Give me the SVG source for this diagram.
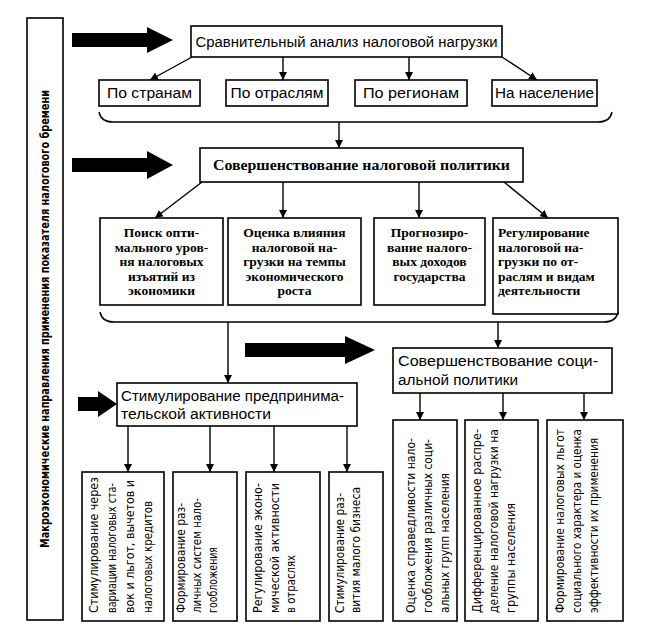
<svg xmlns="http://www.w3.org/2000/svg" width="648" height="636" viewBox="0 0 648 636">
<defs>
<marker id="ah" viewBox="0 0 10 10" refX="10" refY="5" markerWidth="8" markerHeight="8" markerUnits="userSpaceOnUse" orient="auto">
<path d="M0,0 L10,5 L0,10 z" fill="#000"/>
</marker>
<style>
.box{fill:#fff;stroke:#000;stroke-width:1.6}
.ln{stroke:#000;stroke-width:1.4;fill:none}
.arr{stroke:#000;stroke-width:1.4;fill:none;marker-end:url(#ah)}
.big{fill:#000}
.t{font-family:"Liberation Sans",Arial,sans-serif;font-size:14px;fill:#000}
.tb{font-family:"Liberation Serif","Times New Roman",serif;font-weight:bold;font-size:15px;fill:#000}
.tr{font-family:"Liberation Serif","Times New Roman",serif;font-weight:bold;font-size:13.5px;fill:#000}
.v{font-family:"Liberation Sans Narrow","DejaVu Sans Condensed","Liberation Sans",sans-serif;font-size:12.5px;fill:#000}
.vm{font-family:"Liberation Sans Narrow","DejaVu Sans Condensed","Liberation Sans",sans-serif;font-size:12px;font-weight:bold;fill:#000}
.c{text-anchor:middle}
</style>
</defs>
<rect width="648" height="636" fill="#fff"/>

<g id="side">
<rect class="box" x="27" y="18" width="36" height="602"/>
<text class="vm c" transform="translate(49,319) rotate(-90)" textLength="458" lengthAdjust="spacingAndGlyphs">Макроэкономические направления применения показателя налогового бремени</text>
</g>

<g id="big-arrows">
<polygon class="big" points="72,33 147,33 147,27 173,40 147,53 147,47 72,47"/>
<polygon class="big" points="72,158 147,158 147,151 173,165 147,179 147,172 72,172"/>
<polygon class="big" points="245,343 345,343 345,336 375,350 345,364 345,357 245,357"/>
<polygon class="big" points="78,397 98,397 98,391 117,404 98,417 98,411 78,411"/>
</g>

<g id="connectors">
<line class="arr" x1="192" y1="57" x2="150" y2="80"/>
<line class="arr" x1="283" y1="57" x2="283" y2="80"/>
<line class="arr" x1="409" y1="57" x2="409" y2="80"/>
<line class="arr" x1="502" y1="57" x2="537" y2="80"/>
<path class="ln" d="M99,112 Q101,122 113,122 L598,122 Q610,122 612,112"/>
<line class="arr" x1="339" y1="122" x2="339" y2="148"/>
<line class="arr" x1="202" y1="182" x2="155" y2="218"/>
<line class="arr" x1="283" y1="182" x2="283" y2="218"/>
<line class="arr" x1="419" y1="182" x2="419" y2="218"/>
<line class="arr" x1="504" y1="182" x2="548" y2="218"/>
<path class="ln" d="M100,312 Q102,322 114,322 L604,322 Q616,322 618,312"/>
<line class="arr" x1="228" y1="322" x2="228" y2="383"/>
<line class="arr" x1="498" y1="322" x2="498" y2="348"/>
<line class="arr" x1="128" y1="426" x2="128" y2="472"/>
<line class="arr" x1="210" y1="426" x2="210" y2="472"/>
<line class="arr" x1="274" y1="426" x2="274" y2="472"/>
<line class="arr" x1="347" y1="426" x2="347" y2="472"/>
<line class="arr" x1="420" y1="393" x2="420" y2="420"/>
<line class="arr" x1="503" y1="393" x2="503" y2="420"/>
<line class="arr" x1="584" y1="393" x2="584" y2="420"/>
</g>

<g id="n-compare">
<rect class="box" x="191" y="26" width="311" height="31"/>
<text class="t c" x="346.5" y="47" textLength="302" lengthAdjust="spacingAndGlyphs">Сравнительный анализ налоговой нагрузки</text>
</g>
<g id="n-countries"><rect class="box" x="99" y="80" width="101" height="26"/><text class="t c" x="149.5" y="98" textLength="85" lengthAdjust="spacingAndGlyphs">По странам</text></g>
<g id="n-branches"><rect class="box" x="226" y="80" width="102" height="26"/><text class="t c" x="277" y="98" textLength="93" lengthAdjust="spacingAndGlyphs">По отраслям</text></g>
<g id="n-regions"><rect class="box" x="355" y="80" width="112" height="26"/><text class="t c" x="411" y="98" textLength="96" lengthAdjust="spacingAndGlyphs">По регионам</text></g>
<g id="n-population"><rect class="box" x="492" y="80" width="105" height="26"/><text class="t c" x="544.5" y="98" textLength="99" lengthAdjust="spacingAndGlyphs">На население</text></g>

<g id="n-taxpolicy">
<rect class="box" x="200" y="148" width="323" height="34"/>
<text class="tb c" x="361.5" y="170" textLength="297" lengthAdjust="spacingAndGlyphs">Совершенствование налоговой политики</text>
</g>

<g id="n-optimal">
<rect class="box" x="100" y="218" width="123" height="87"/>
<text class="tr c"><tspan x="161.5" y="237">Поиск опти-</tspan><tspan x="161.5" y="251.5">мального уров-</tspan><tspan x="161.5" y="266">ня налоговых</tspan><tspan x="161.5" y="280.5">изъятий из</tspan><tspan x="161.5" y="295">экономики</tspan></text>
</g>
<g id="n-influence">
<rect class="box" x="228" y="218" width="133" height="87"/>
<text class="tr c"><tspan x="294.5" y="237">Оценка влияния</tspan><tspan x="294.5" y="251.5">налоговой на-</tspan><tspan x="294.5" y="266">грузки на темпы</tspan><tspan x="294.5" y="280.5">экономического</tspan><tspan x="294.5" y="295">роста</tspan></text>
</g>
<g id="n-forecast">
<rect class="box" x="374" y="218" width="111" height="87"/>
<text class="tr c"><tspan x="429.5" y="237">Прогнозиро-</tspan><tspan x="429.5" y="251.5">вание налого-</tspan><tspan x="429.5" y="266">вых доходов</tspan><tspan x="429.5" y="280.5">государства</tspan></text>
</g>
<g id="n-regulation">
<rect class="box" x="493" y="218" width="125" height="96"/>
<text class="tr"><tspan x="498" y="237">Регулирование</tspan><tspan x="498" y="251.5">налоговой на-</tspan><tspan x="498" y="266">грузки по от-</tspan><tspan x="498" y="280.5">раслям и видам</tspan><tspan x="498" y="295">деятельности</tspan></text>
</g>

<g id="n-social">
<rect class="box" x="393" y="348" width="219" height="45"/>
<text class="t"><tspan x="398" y="366" textLength="200" lengthAdjust="spacingAndGlyphs">Совершенствование соци-</tspan><tspan x="398" y="385" textLength="120" lengthAdjust="spacingAndGlyphs">альной политики</tspan></text>
</g>
<g id="n-entrepreneur">
<rect class="box" x="117" y="383" width="240" height="43"/>
<text class="t"><tspan x="121" y="401" textLength="223" lengthAdjust="spacingAndGlyphs">Стимулирование предпринима-</tspan><tspan x="121" y="419" textLength="150" lengthAdjust="spacingAndGlyphs">тельской активности</tspan></text>
</g>

<g id="n-b1">
<rect class="box" x="82" y="472" width="82" height="149"/>
<text class="v" transform="translate(98,613) rotate(-90)" textLength="136" lengthAdjust="spacingAndGlyphs">Стимулирование через</text>
<text class="v" transform="translate(116,613) rotate(-90)" textLength="130" lengthAdjust="spacingAndGlyphs">вариации налоговых ста-</text>
<text class="v" transform="translate(134,613) rotate(-90)" textLength="133" lengthAdjust="spacingAndGlyphs">вок и льгот, вычетов и</text>
<text class="v" transform="translate(152,613) rotate(-90)" textLength="112" lengthAdjust="spacingAndGlyphs">налоговых кредитов</text>
</g>
<g id="n-b2">
<rect class="box" x="173" y="472" width="64" height="149"/>
<text class="v" transform="translate(185,613) rotate(-90)" textLength="110" lengthAdjust="spacingAndGlyphs">Формирование раз-</text>
<text class="v" transform="translate(201,613) rotate(-90)" textLength="115" lengthAdjust="spacingAndGlyphs">личных систем нало-</text>
<text class="v" transform="translate(217,613) rotate(-90)" textLength="66" lengthAdjust="spacingAndGlyphs">гообложения</text>
</g>
<g id="n-b3">
<rect class="box" x="246" y="472" width="74" height="149"/>
<text class="v" transform="translate(262,613) rotate(-90)" textLength="130" lengthAdjust="spacing">Регулирование эконо-</text>
<text class="v" transform="translate(279,613) rotate(-90)" textLength="130" lengthAdjust="spacing">мической активности</text>
<text class="v" transform="translate(295,613) rotate(-90)" textLength="58" lengthAdjust="spacingAndGlyphs">в отраслях</text>
</g>
<g id="n-b4">
<rect class="box" x="329" y="472" width="54" height="149"/>
<text class="v" transform="translate(344,613) rotate(-90)" textLength="120" lengthAdjust="spacingAndGlyphs">Стимулирование раз-</text>
<text class="v" transform="translate(360,613) rotate(-90)" textLength="126" lengthAdjust="spacingAndGlyphs">вития малого бизнеса</text>
</g>
<g id="n-b5">
<rect class="box" x="393" y="420" width="64" height="201"/>
<text class="v" transform="translate(415,613) rotate(-90)" textLength="175" lengthAdjust="spacingAndGlyphs">Оценка справедливости нало-</text>
<text class="v" transform="translate(432,613) rotate(-90)" textLength="174" lengthAdjust="spacingAndGlyphs">гообложения различных соци-</text>
<text class="v" transform="translate(449,613) rotate(-90)" textLength="140" lengthAdjust="spacingAndGlyphs">альных групп населения</text>
</g>
<g id="n-b6">
<rect class="box" x="465" y="420" width="73" height="201"/>
<text class="v" transform="translate(481,613) rotate(-90)" textLength="184" lengthAdjust="spacingAndGlyphs">Дифференцированное распре-</text>
<text class="v" transform="translate(498,613) rotate(-90)" textLength="184" lengthAdjust="spacingAndGlyphs">деление налоговой нагрузки на</text>
<text class="v" transform="translate(515,613) rotate(-90)" textLength="110" lengthAdjust="spacingAndGlyphs">группы населения</text>
</g>
<g id="n-b7">
<rect class="box" x="547" y="420" width="76" height="201"/>
<text class="v" transform="translate(564,613) rotate(-90)" textLength="184" lengthAdjust="spacingAndGlyphs">Формирование налоговых льгот</text>
<text class="v" transform="translate(581,613) rotate(-90)" textLength="184" lengthAdjust="spacingAndGlyphs">социального характера и оценка</text>
<text class="v" transform="translate(598,613) rotate(-90)" textLength="175" lengthAdjust="spacingAndGlyphs">эффективности их применения</text>
</g>

<text id="caption" x="145" y="644" style="font-family:'Liberation Serif','Times New Roman',serif;font-size:13px" textLength="95" lengthAdjust="spacing">Рис. 1.10. Р</text>
</svg>
